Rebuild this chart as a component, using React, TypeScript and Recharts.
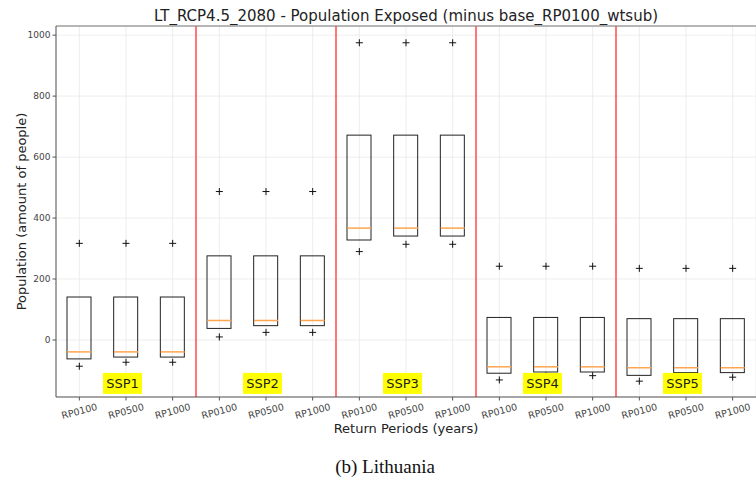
import { ComposedChart, Bar, Scatter, XAxis, YAxis, CartesianGrid, ReferenceLine } from "recharts"

const returnPeriods = ["RP0100", "RP0500", "RP1000"]
const groups = ["SSP1", "SSP2", "SSP3", "SSP4", "SSP5"]

// box edges (q1 / q3), medians and outliers
const boxTop = [141, 141, 141, 276, 276, 276, 672, 672, 672, 74, 74, 74, 70, 70, 70]
const boxBottom = [-62, -56, -56, 38, 47, 47, 328, 341, 341, -109, -105, -105, -116, -107, -107]
const median = [-39, -39, -39, 64, 64, 64, 367, 367, 367, -88, -88, -88, -91, -91, -91]
const fliersHigh = [317, 317, 317, 487, 487, 487, 975, 975, 975, 242, 242, 242, 235, 235, 235]
const fliersLow = [-86, -73, -73, 10, 25, 25, 290, 314, 314, -131, -117, -117, -135, -122, -122]

const yTicks = [0, 200, 400, 600, 800, 1000]
const yMin = -187
const yMax = 1030
const groupLabelY = -144

const FONT = "'DejaVu Sans', sans-serif"
const AXIS = "#555"

// unique keys like "SSP1|RP0100" so reference lines can target a category
const keys = groups.flatMap((g) => returnPeriods.map((rp) => `${g}|${rp}`))

const data = keys.map((key, i) => ({
  key,
  box: [boxBottom[i], boxTop[i]],
  median: median[i],
  hi: fliersHigh[i],
  lo: fliersLow[i],
  group: i % 3 === 1 ? groups[Math.floor(i / 3)] : null,
  labelY: i % 3 === 1 ? groupLabelY : null,
}))

const BoxShape = (props: any) => {
  const { x, y, width, height } = props
  const top = Math.min(y, y + height)
  return <rect x={x} y={top} width={width} height={Math.abs(height)} fill="none" stroke="#222" strokeWidth={1} />
}

const MedianShape = (props: any) => {
  const { cx, cy } = props
  return <line x1={cx - 12} x2={cx + 12} y1={cy} y2={cy} stroke="#ffa54f" strokeWidth={1.5} />
}

const PlusShape = (props: any) => {
  const { cx, cy } = props
  return (
    <path d={`M${cx - 3.5},${cy}H${cx + 3.5}M${cx},${cy - 3.5}V${cy + 3.5}`} stroke="#111" strokeWidth={1} />
  )
}

const LabelShape = (props: any) => {
  const { cx, cy, payload } = props
  if (!payload || !payload.group || !isFinite(cy)) return <g />
  return (
    <g>
      <rect x={cx - 23} y={cy - 11} width={39} height={21} fill="#ffff00" />
      <text x={cx - 3.5} y={cy} textAnchor="middle" dominantBaseline="central" fontSize={13} fill="#222" fontFamily={FONT}>
        {payload.group}
      </text>
    </g>
  )
}

const XTick = (props: any) => {
  const { x, payload } = props
  const label = String(payload.value).split("|")[1]
  return (
    <g transform={`translate(${x},${411})`}>
      <text transform="rotate(-15)" textAnchor="middle" dominantBaseline="central" fontSize={9.5} fill="#444" fontFamily={FONT}>
        {label}
      </text>
    </g>
  )
}

export default function App() {
  return (
    <div style={{ position: "absolute", left: 0, top: 0, width: 756, height: 481, background: "#fff", overflow: "hidden" }}>
      <div style={{ position: "absolute", left: 56, top: 9, width: 700, textAlign: "center", fontFamily: FONT, fontSize: 15, lineHeight: 1, color: "#222" }}>
        LT_RCP4.5_2080 - Population Exposed (minus base_RP0100_wtsub)
      </div>
      <ComposedChart
        width={756}
        height={481}
        data={data}
        margin={{ top: 26, right: 0, left: 0, bottom: 54 }}
        style={{ fontFamily: FONT }}
      >
        <CartesianGrid stroke="#e8e8e8" strokeWidth={0.8} />
        <XAxis
          dataKey="key"
          height={30}
          interval={0}
          tickSize={3.5}
          tickLine={{ stroke: AXIS }}
          axisLine={{ stroke: AXIS }}
          tick={<XTick />}
        />
        <YAxis
          width={56}
          domain={[yMin, yMax]}
          allowDataOverflow
          ticks={yTicks}
          tickSize={3.5}
          tickLine={{ stroke: AXIS }}
          axisLine={{ stroke: AXIS }}
          tick={{ fontSize: 9, fill: "#444", fontFamily: FONT }}
          label={{
            content: (p: any) => {
              const vb = p.viewBox
              const cy = vb.y + vb.height / 2
              return (
                <text x={21} y={cy} transform={`rotate(-90, 21, ${cy})`} textAnchor="middle" dominantBaseline="central" fontSize={13} fill="#222" fontFamily={FONT}>
                  Population (amount of people)
                </text>
              )
            },
          }}
        />
        <ReferenceLine y={yMax} stroke="#777" strokeWidth={1} />
        {groups.slice(0, -1).map((g) => (
          <ReferenceLine key={g} x={`${g}|RP1000`} position="end" stroke="#ff4a4a" strokeWidth={1.5} />
        ))}
        <Bar dataKey="box" barSize={24} shape={<BoxShape />} isAnimationActive={false} />
        <Scatter dataKey="median" shape={<MedianShape />} isAnimationActive={false} />
        <Scatter dataKey="hi" shape={<PlusShape />} isAnimationActive={false} />
        <Scatter dataKey="lo" shape={<PlusShape />} isAnimationActive={false} />
        <Scatter dataKey="labelY" shape={<LabelShape />} isAnimationActive={false} />
      </ComposedChart>
      <div style={{ position: "absolute", left: 56, top: 422, width: 700, textAlign: "center", fontFamily: FONT, fontSize: 13, lineHeight: 1, color: "#222" }}>
        Return Periods (years)
      </div>
      <div style={{ position: "absolute", left: 385, top: 457, transform: "translateX(-50%)", fontFamily: "'Liberation Serif', serif", fontSize: 19, lineHeight: 1, color: "#111", whiteSpace: "nowrap" }}>
        (b) Lithuania
      </div>
    </div>
  )
}
